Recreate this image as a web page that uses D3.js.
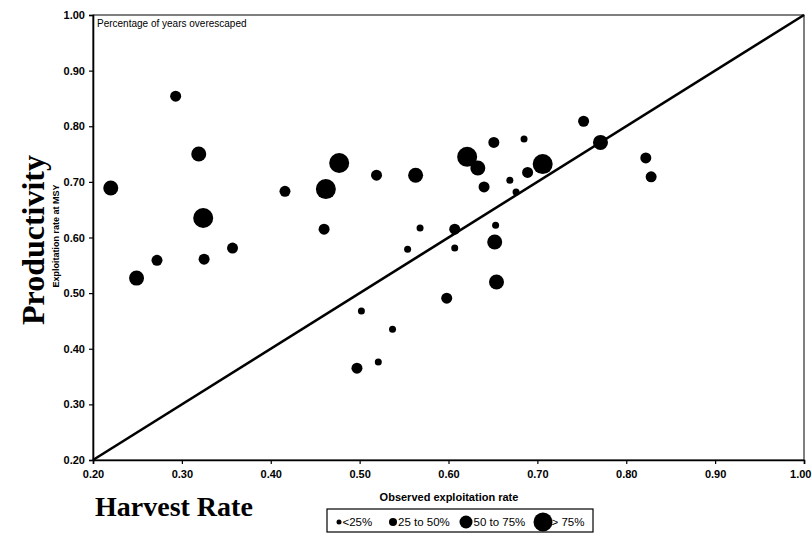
<!DOCTYPE html>
<html>
<head>
<meta charset="utf-8">
<script src="https://cdn.jsdelivr.net/npm/d3@7"></script>
<style>
body { margin: 0; background: #fff; }
svg { display: block; }
</style>
</head>
<body>
<svg width="812" height="533"></svg>
<script>
// observed exploitation rate (x), exploitation rate at MSY (y), overescapement class
const harvest = [0.220, 0.249, 0.272, 0.293, 0.319, 0.324, 0.325, 0.357, 0.416, 0.460,
  0.462, 0.477, 0.519, 0.563, 0.568, 0.554, 0.502, 0.537, 0.521, 0.497,
  0.598, 0.607, 0.607, 0.621, 0.633, 0.640, 0.651, 0.652, 0.653, 0.654,
  0.669, 0.676, 0.685, 0.689, 0.706, 0.752, 0.771, 0.822, 0.828];
const productivity = [0.689, 0.527, 0.559, 0.854, 0.750, 0.635, 0.561, 0.581, 0.683, 0.615,
  0.687, 0.734, 0.712, 0.712, 0.617, 0.579, 0.468, 0.435, 0.376, 0.365,
  0.491, 0.615, 0.581, 0.745, 0.725, 0.691, 0.771, 0.592, 0.622, 0.520,
  0.703, 0.682, 0.777, 0.717, 0.732, 0.809, 0.771, 0.743, 0.709];
const overClass = [2, 2, 1, 1, 2, 3, 1, 1, 1, 1,
  3, 3, 1, 2, 0, 0, 0, 0, 0, 1,
  1, 1, 0, 3, 2, 1, 1, 2, 0, 2,
  0, 0, 0, 1, 3, 1, 2, 1, 1];
const classLabels = ["<25%", "25 to 50%", "50 to 75%", "> 75%"];
const tickVals = [0.2, 0.3, 0.4, 0.5, 0.6, 0.7, 0.8, 0.9, 1.0];

const svg = d3.select("svg");
const width = +svg.attr("width");
const height = +svg.attr("height");

const margin = {top: 15, right: 8, bottom: 73, left: 93};
const innerWidth = width - margin.left - margin.right;
const innerHeight = height - margin.top - margin.bottom;

const data = harvest.map((h, i) => ({x: h, y: productivity[i], c: overClass[i]}));

const xScale = d3.scaleLinear().domain([0.2, 1.0]).range([0, innerWidth]);
const yScale = d3.scaleLinear().domain([0.2, 1.0]).range([innerHeight, 0]);
const rScale = d3.scaleOrdinal().domain([0, 1, 2, 3]).range([3.5, 5.5, 7.5, 10]);

const g = svg.append("g")
  .attr("transform", `translate(${margin.left},${margin.top})`);

// frame
g.append("rect")
  .attr("width", innerWidth)
  .attr("height", innerHeight)
  .attr("fill", "none")
  .attr("stroke", "#000")
  .attr("stroke-width", 1);

const fmt = d3.format(".2f");

const xAxis = d3.axisBottom(xScale).tickValues(tickVals).tickFormat(fmt).tickSize(4).tickPadding(6);
const xg = g.append("g").attr("transform", `translate(0,${innerHeight})`).call(xAxis);

const yAxis = d3.axisLeft(yScale).tickValues(tickVals).tickFormat(fmt).tickSize(4).tickPadding(4);
const yg = g.append("g").call(yAxis);

[xg, yg].forEach(a => {
  a.select(".domain").attr("stroke-width", 1.6);
  a.selectAll("line").attr("stroke-width", 1.2);
  a.selectAll("text")
    .attr("font-family", "'Liberation Sans', Arial, sans-serif")
    .attr("font-size", 11)
    .attr("font-weight", "bold")
    .attr("fill", "#000");
});
// last x label sits against the page edge
xg.selectAll(".tick text").filter(d => d === 1.0)
  .attr("text-anchor", "end")
  .attr("dx", margin.right - 1);

// 1:1 line
g.append("line")
  .attr("x1", xScale(0.2)).attr("y1", yScale(0.2))
  .attr("x2", xScale(1.0)).attr("y2", yScale(1.0))
  .attr("stroke", "#000")
  .attr("stroke-width", 2.6);

g.selectAll("circle.pt")
  .data(data)
  .join("circle")
  .attr("class", "pt")
  .attr("cx", d => xScale(d.x))
  .attr("cy", d => yScale(d.y))
  .attr("r", d => rScale(d.c))
  .attr("fill", "#000");

g.append("text")
  .attr("x", 4)
  .attr("y", 12)
  .attr("font-family", "'Liberation Sans', Arial, sans-serif")
  .attr("font-size", 10)
  .text("Percentage of years overescaped");

// axis titles
svg.append("text")
  .attr("x", margin.left + 2)
  .attr("y", 516)
  .attr("font-family", "'Liberation Serif', 'Times New Roman', serif")
  .attr("font-weight", "bold")
  .attr("font-size", 28)
  .text("Harvest Rate");

svg.append("text")
  .attr("x", 449)
  .attr("y", 501)
  .attr("text-anchor", "middle")
  .attr("font-family", "'Liberation Sans', Arial, sans-serif")
  .attr("font-weight", "bold")
  .attr("font-size", 11)
  .text("Observed exploitation rate");

svg.append("text")
  .attr("transform", "translate(44,240) rotate(-90)")
  .attr("text-anchor", "middle")
  .attr("font-family", "'Liberation Serif', 'Times New Roman', serif")
  .attr("font-weight", "bold")
  .attr("font-size", 32)
  .text("Productivity");

svg.append("text")
  .attr("transform", "translate(59,236) rotate(-90)")
  .attr("text-anchor", "middle")
  .attr("font-family", "'Liberation Sans', Arial, sans-serif")
  .attr("font-weight", "bold")
  .attr("font-size", 9)
  .text("Exploitation rate at MSY");

// legend
const legend = svg.append("g").attr("transform", "translate(327,509)");
legend.append("rect")
  .attr("width", 266)
  .attr("height", 23)
  .attr("fill", "#fff")
  .attr("stroke", "#000")
  .attr("stroke-width", 1.2);

const legR = [2.5, 4, 6.5, 9.5];
const legX = [12, 66, 139, 216];
const items = legend.selectAll("g.item")
  .data(classLabels)
  .join("g")
  .attr("class", "item")
  .attr("transform", (d, i) => `translate(${legX[i]},13)`);
items.append("circle")
  .attr("r", (d, i) => legR[i])
  .attr("fill", "#000");
items.append("text")
  .attr("x", (d, i) => legR[i] + (i === 3 ? -1 : 1))
  .attr("y", 4)
  .attr("font-family", "'Liberation Sans', Arial, sans-serif")
  .attr("font-size", 11.5)
  .text(d => d);
</script>
</body>
</html>
